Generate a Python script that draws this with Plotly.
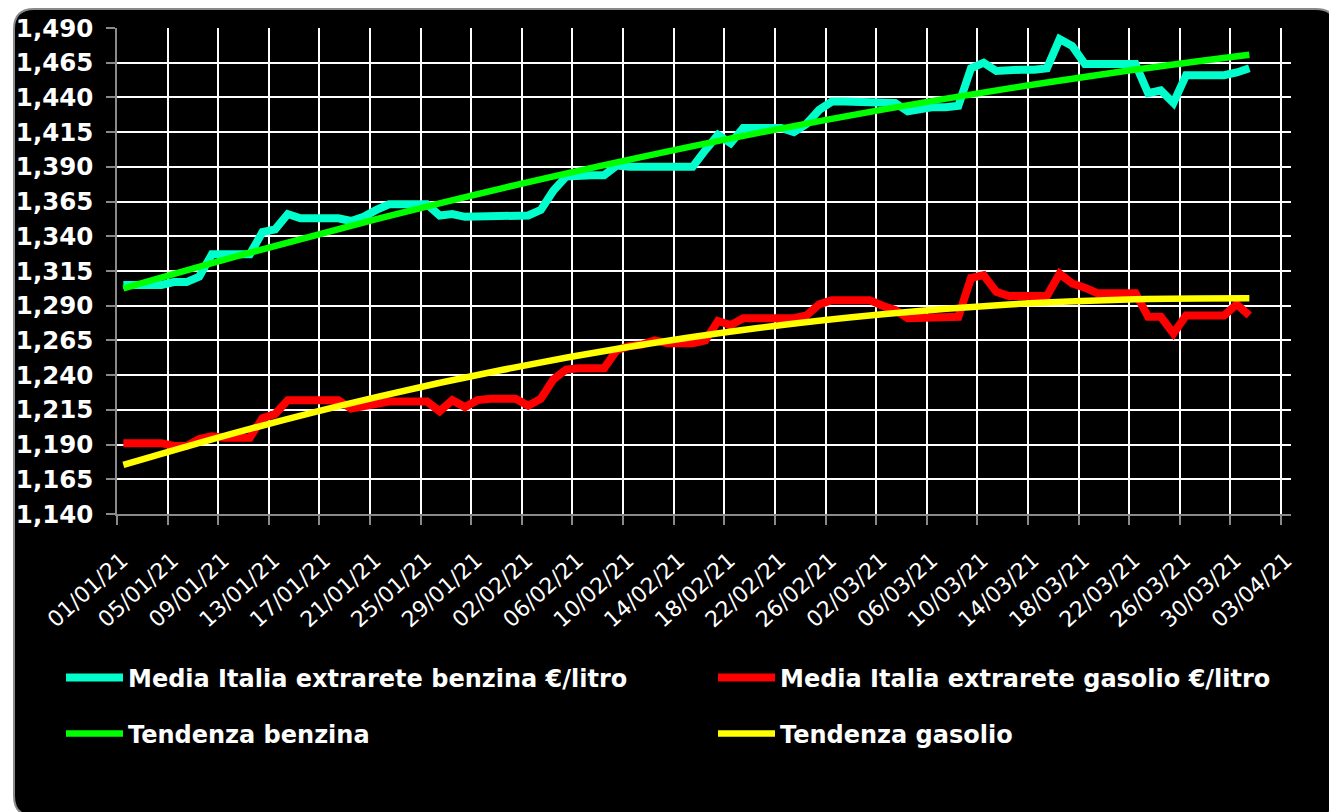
import pandas as pd
import plotly.graph_objects as go

# ---------------- data ----------------
start_day = "2021-01-01"
n_days = 90

benzina = [
    1.305, 1.305, 1.305, 1.305, 1.307, 1.307, 1.311, 1.327, 1.327, 1.327,
    1.327, 1.343, 1.345, 1.356, 1.353, 1.353, 1.353, 1.353, 1.351, 1.354,
    1.359, 1.363, 1.363, 1.363, 1.363, 1.355, 1.356, 1.354, 1.354, 1.354,
    1.354, 1.354, 1.355, 1.359, 1.373, 1.383, 1.384, 1.384, 1.384, 1.391,
    1.390, 1.390, 1.390, 1.390, 1.390, 1.390, 1.402, 1.413, 1.407, 1.418,
    1.418, 1.418, 1.418, 1.415, 1.421, 1.431, 1.437, 1.437, 1.437, 1.437,
    1.437, 1.436, 1.430, 1.432, 1.433, 1.433, 1.434, 1.461, 1.465, 1.459,
    1.460, 1.460, 1.460, 1.461, 1.482, 1.477, 1.464, 1.464, 1.464, 1.464,
    1.464, 1.443, 1.445, 1.436, 1.456, 1.456, 1.456, 1.456, 1.458, 1.461,
]

gasolio = [
    1.191, 1.191, 1.191, 1.191, 1.189, 1.189, 1.194, 1.196, 1.195, 1.195,
    1.195, 1.209, 1.212, 1.222, 1.222, 1.222, 1.222, 1.222, 1.216, 1.218,
    1.219, 1.221, 1.221, 1.221, 1.221, 1.214, 1.222, 1.217, 1.222, 1.223,
    1.223, 1.223, 1.218, 1.223, 1.237, 1.244, 1.245, 1.245, 1.245, 1.258,
    1.261, 1.262, 1.265, 1.263, 1.263, 1.263, 1.265, 1.279, 1.276, 1.281,
    1.281, 1.281, 1.281, 1.281, 1.283, 1.291, 1.294, 1.294, 1.294, 1.294,
    1.290, 1.287, 1.281, 1.281, 1.281, 1.281, 1.282, 1.310, 1.312, 1.300,
    1.297, 1.297, 1.297, 1.297, 1.313, 1.306, 1.303, 1.299, 1.299, 1.299,
    1.299, 1.282, 1.282, 1.270, 1.283, 1.283, 1.283, 1.283, 1.291, 1.283,
]

# trend lines read at selected days (day index from 01/01/21)
trend_days = [0, 10, 20, 30, 40, 50, 60, 70, 80, 89]
trend_benzina = [1.3024, 1.3282, 1.3523, 1.3747, 1.3952, 1.4141, 1.4312, 1.4465, 1.4601, 1.4708]
trend_gasolio = [1.1753, 1.2013, 1.2242, 1.2439, 1.2604, 1.2738, 1.2839, 1.2909, 1.2947, 1.2954]

names = [
    "Media Italia extrarete benzina €/litro",
    "Media Italia extrarete gasolio €/litro",
    "Tendenza benzina",
    "Tendenza gasolio",
]
colors = ["#00FFCC", "#FF0000", "#00FF00", "#FFFF00"]

y_min, y_max, y_step = 1.140, 1.490, 0.025

# ---------------- figure ----------------
W, H = 1329, 812
ML, MR, MT, MB = 117, 38, 28, 298
PW, PH = W - ML - MR, H - MT - MB

dates = pd.date_range(start_day + " 12:00", periods=n_days, freq="D")
trend_dates = [dates[d] for d in trend_days]


def px2paper(x, y):
    return (x - ML) / PW, (H - MB - y) / PH


fig = go.Figure()
fig.add_trace(go.Scatter(x=dates, y=benzina, mode="lines", name=names[0],
                         line=dict(color=colors[0], width=8), legend="legend"))
fig.add_trace(go.Scatter(x=dates, y=gasolio, mode="lines", name=names[1],
                         line=dict(color=colors[1], width=8), legend="legend2"))
fig.add_trace(go.Scatter(x=trend_dates, y=trend_benzina, mode="lines", name=names[2],
                         line=dict(color=colors[2], width=6.5, shape="spline"), legend="legend3"))
fig.add_trace(go.Scatter(x=trend_dates, y=trend_gasolio, mode="lines", name=names[3],
                         line=dict(color=colors[3], width=6.5, shape="spline"), legend="legend4"))


def rounded_rect(x0, y0, x1, y1, r):
    def P(x, y):
        px, py = px2paper(x, y)
        return f"{px:.5f},{py:.5f}"
    return (f"M {P(x0 + r, y0)} L {P(x1 - r, y0)} Q {P(x1, y0)} {P(x1, y0 + r)} "
            f"L {P(x1, y1 - r)} Q {P(x1, y1)} {P(x1 - r, y1)} "
            f"L {P(x0 + r, y1)} Q {P(x0, y1)} {P(x0, y1 - r)} "
            f"L {P(x0, y0 + r)} Q {P(x0, y0)} {P(x0 + r, y0)} Z")


fig.add_shape(type="path", xref="paper", yref="paper",
              path=rounded_rect(14, 9, 1336, 816, 20),
              fillcolor="black", line=dict(color="#8a8a8a", width=2), layer="below")

legend_font = dict(family="DejaVu Sans", size=24, color="white", weight="bold")


def legend_box(xpx, ypx):
    return dict(
        orientation="h", x=px2paper(xpx, 0)[0], xanchor="left",
        y=px2paper(0, ypx)[1], yanchor="middle",
        itemwidth=57, bgcolor="rgba(0,0,0,0)", font=legend_font,
    )


fig.update_layout(
    width=W, height=H,
    margin=dict(l=ML, r=MR, t=MT, b=MB, pad=0),
    paper_bgcolor="white",
    plot_bgcolor="rgba(0,0,0,0)",
    separators=",.",
    xaxis=dict(
        type="date",
        range=["2021-01-01", "2021-04-03 19:00"],
        tick0="2021-01-01", dtick=4 * 86400000,
        tickformat="%d/%m/%y", tickangle=-42,
        tickfont=dict(family="DejaVu Sans", size=22, color="white"),
        ticklabelstandoff=14, ticklabelshift=5,
        showgrid=True, gridcolor="white", gridwidth=1.5,
        ticks="outside", ticklen=9, tickcolor="#8a8a8a", tickwidth=1.5,
        showline=True, linecolor="#8a8a8a", linewidth=1.5,
        zeroline=False,
    ),
    yaxis=dict(
        range=[y_min, y_max], dtick=y_step, tick0=y_min,
        tickformat=".3f",
        tickfont=dict(family="DejaVu Sans", size=24.5, color="white", weight="bold"),
        ticklabelstandoff=8,
        showgrid=True, gridcolor="white", gridwidth=1.5,
        ticks="outside", ticklen=9, tickcolor="#8a8a8a", tickwidth=1.5,
        showline=True, linecolor="#8a8a8a", linewidth=1.5,
        zeroline=False,
    ),
    showlegend=True,
    legend=legend_box(61, 678),
    legend2=legend_box(713, 678),
    legend3=legend_box(61, 734),
    legend4=legend_box(713, 734),
)

fig.write_html(
    "out.html",
    config={"displayModeBar": False},
    post_script="document.body.style.margin='0';document.body.style.overflow='hidden';",
)
